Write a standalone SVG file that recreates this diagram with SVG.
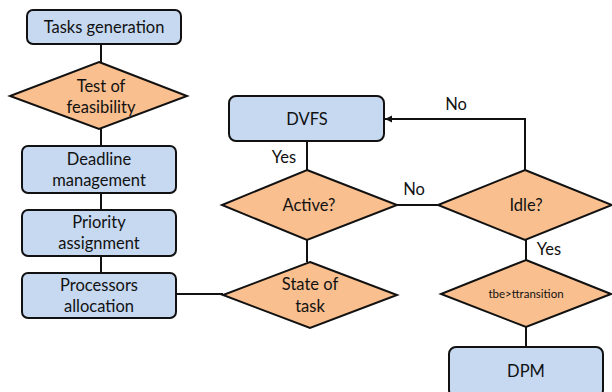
<svg xmlns="http://www.w3.org/2000/svg" width="612" height="392" viewBox="0 0 612 392">
<style>
.box{fill:#C6D9F1;stroke:#111;stroke-width:2}
.dia{fill:#F9BF8F;stroke:#111;stroke-width:2}
.ln{fill:none;stroke:#111;stroke-width:2}
text{font-family:Lato,"Open Sans","Liberation Sans",sans-serif;font-size:16.5px;fill:#111;text-anchor:middle;dominant-baseline:middle}
.sm{font-size:11.5px}
</style>
<defs>
<marker id="arr" markerWidth="8" markerHeight="8" refX="7" refY="4" orient="auto" markerUnits="userSpaceOnUse">
<path d="M0,0.5 L7,4 L0,7.5 z" fill="#111"/>
</marker>
</defs>
<rect width="612" height="392" fill="#fff"/>
<g id="connectors">
<line class="ln" x1="101" y1="44" x2="101" y2="62"/>
<line class="ln" x1="101" y1="129" x2="101" y2="146"/>
<line class="ln" x1="101" y1="193" x2="101" y2="210"/>
<line class="ln" x1="101" y1="256" x2="101" y2="273"/>
<line class="ln" x1="176" y1="294" x2="223" y2="294"/>
<line class="ln" x1="307" y1="141" x2="307" y2="170"/>
<line class="ln" x1="307" y1="240" x2="307" y2="262"/>
<line class="ln" x1="397" y1="205" x2="438" y2="205"/>
<polyline class="ln" points="525,170 525,119 385,119" marker-end="url(#arr)"/>
<line class="ln" x1="526" y1="240" x2="526" y2="260"/>
<line class="ln" x1="526" y1="327" x2="526" y2="347"/>
<text x="284" y="159">Yes</text>
<text x="414" y="191">No</text>
<text x="456" y="106">No</text>
<text x="549" y="251">Yes</text>
</g>
<g id="tasks-generation">
<rect class="box" x="27" y="10" width="154" height="34" rx="6"/>
<text x="104" y="29">Tasks generation</text>
</g>
<g id="test-feasibility">
<polygon class="dia" points="99,62 187,96 99,129 10,96"/>
<text x="101" y="88">Test of</text>
<text x="101" y="109">feasibility</text>
</g>
<g id="deadline-management">
<rect class="box" x="22" y="146" width="154" height="47" rx="6"/>
<text x="99" y="161">Deadline</text>
<text x="99" y="182">management</text>
</g>
<g id="priority-assignment">
<rect class="box" x="22" y="210" width="154" height="46" rx="6"/>
<text x="99" y="224">Priority</text>
<text x="99" y="245">assignment</text>
</g>
<g id="processors-allocation">
<rect class="box" x="22" y="273" width="154" height="45" rx="6"/>
<text x="99" y="287">Processors</text>
<text x="99" y="308">allocation</text>
</g>
<g id="dvfs">
<rect class="box" x="229" y="96" width="155" height="45" rx="7"/>
<text x="307" y="121">DVFS</text>
</g>
<g id="active">
<polygon class="dia" points="307,170 397,205 307,240 222,205"/>
<text x="309" y="207">Active?</text>
</g>
<g id="idle">
<polygon class="dia" points="525,170 612,205 525,240 438,205"/>
<text x="526" y="207">Idle?</text>
</g>
<g id="state-of-task">
<polygon class="dia" points="310,262 397,295 310,328 223,295"/>
<text x="310" y="286">State of</text>
<text x="310" y="308">task</text>
</g>
<g id="tbe-ttransition">
<polygon class="dia" points="526,260 611,294 526,327 441,294"/>
<text class="sm" x="526" y="295">tbe&gt;ttransition</text>
</g>
<g id="dpm">
<rect class="box" x="449" y="347" width="154" height="50" rx="7"/>
<text x="526" y="373">DPM</text>
</g>
</svg>
